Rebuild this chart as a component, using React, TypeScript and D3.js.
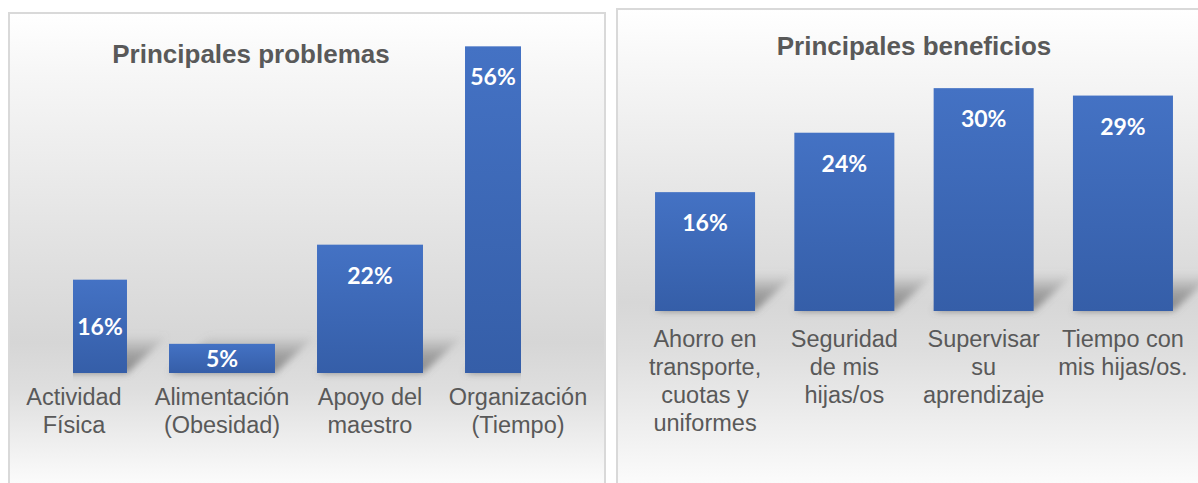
import React from "react";
import * as d3 from "d3";

// ---- Data ----
const problemCategories = ["Actividad\nFísica", "Alimentación\n(Obesidad)", "Apoyo del\nmaestro", "Organización\n(Tiempo)"];
const problemValues = [0.16, 0.05, 0.22, 0.56];
const problemTitle = "Principales problemas";

const benefitCategories = ["Ahorro en\ntransporte,\ncuotas y\nuniformes", "Seguridad\nde mis\nhijas/os", "Supervisar\nsu\naprendizaje", "Tiempo con\nmis hijas/os."];
const benefitValues = [0.16, 0.24, 0.30, 0.29];
const benefitTitle = "Principales beneficios";

const fmt = d3.format(".0%");

type PanelCfg = {
  id: string;
  title: string;
  cats: string[];
  vals: number[];
  box: [number, number, number]; // left, top, right
  bandRange: [number, number];
  padding: number;
  yDomainMax: number;
  yRange: [number, number];
  clip?: [number, number];
  titlePos: [number, number];
  labelY0: number;
  gradStops: [number, string][];
};

const panels: PanelCfg[] = [
  {
    id: "p1",
    title: problemTitle,
    cats: problemCategories,
    vals: problemValues,
    box: [9, 13, 605],
    bandRange: [0, 592],
    padding: 0.284,
    yDomainMax: 0.6,
    yRange: [373, 23],
    clip: [73, 521],
    titlePos: [251, 54],
    labelY0: 397,
    gradStops: [[0, "#ffffff"], [0.12, "#f7f7f7"], [0.7, "#d6d6d6"], [0.8, "#dedede"], [1, "#fbfbfb"]],
  },
  {
    id: "p2",
    title: benefitTitle,
    cats: benefitCategories,
    vals: benefitValues,
    box: [617, 9, 1205],
    bandRange: [635.4, 1192.6],
    padding: 0.282,
    yDomainMax: 0.35,
    yRange: [311, 51],
    titlePos: [914, 46],
    labelY0: 339,
    gradStops: [[0, "#ffffff"], [0.12, "#f7f7f7"], [0.62, "#d7d7d7"], [0.72, "#dedede"], [1, "#fbfbfb"]],
  },
];

function Panel({ cfg }: { cfg: PanelCfg }) {
  const x = d3.scaleBand<string>().domain(cfg.cats).range(cfg.bandRange).paddingInner(cfg.padding).paddingOuter(cfg.padding / 2);
  const y = d3.scaleLinear().domain([0, cfg.yDomainMax]).range(cfg.yRange);
  const base = y(0);
  const bw = x.bandwidth();
  const [bl, bt, br] = cfg.box;
  const sdx = 42;
  const sdy = 38;
  const clipL = cfg.clip ? cfg.clip[0] : -1e4;
  const clipR = cfg.clip ? cfg.clip[1] : 1e4;
  return (
    <g>
      <defs>
        <linearGradient id={`bg-${cfg.id}`} gradientUnits="userSpaceOnUse" x1={0} y1={bt} x2={0} y2={483}>
          {cfg.gradStops.map(([o, c], i) => (
            <stop key={i} offset={o} stopColor={c} />
          ))}
        </linearGradient>
        <clipPath id={`clip-${cfg.id}`}>
          <rect x={clipL} y={0} width={clipR - clipL} height={483} />
        </clipPath>
        <linearGradient id={`sh-${cfg.id}`} gradientUnits="objectBoundingBox" x1={0} y1={1} x2={0} y2={0}>
          <stop offset={0} stopColor="#666" stopOpacity={0.75} />
          <stop offset={0.5} stopColor="#777" stopOpacity={0.55} />
          <stop offset={1} stopColor="#888" stopOpacity={0} />
        </linearGradient>
      </defs>
      <rect x={bl} y={bt} width={br - bl} height={500} fill={`url(#bg-${cfg.id})`} stroke="#d9d9d9" strokeWidth={2} />
      <text x={cfg.titlePos[0]} y={cfg.titlePos[1]} textAnchor="middle" dominantBaseline="central"
        fontFamily="'Liberation Sans', Arial, sans-serif" fontWeight="bold" fontSize={26} fill="#595959">
        {cfg.title}
      </text>
      <g clipPath={`url(#clip-${cfg.id})`}>
        {cfg.cats.map((c) => {
          const x0 = x(c)!;
          const x1 = x0 + bw;
          return (
            <polygon key={"s" + c}
              points={`${x0},${base} ${x1},${base} ${x1 + sdx},${base - sdy} ${x0 + sdx},${base - sdy}`}
              fill={`url(#sh-${cfg.id})`} filter="url(#blur)" />
          );
        })}
        {cfg.cats.map((c, i) => (
          <rect key={"b" + c} x={x(c)} y={y(cfg.vals[i])} width={bw} height={base - y(cfg.vals[i])} fill="url(#barGrad)" />
        ))}
      </g>
      {cfg.cats.map((c, i) => {
        const x0 = Math.max(x(c)!, clipL);
        const x1 = Math.min(x(c)! + bw, clipR);
        const top = y(cfg.vals[i]);
        const h = base - top;
        const ly = h > 110 ? top + 30 : top + h / 2;
        return (
          <text key={"l" + c} x={(x0 + x1) / 2} y={ly} textAnchor="middle" dominantBaseline="central"
            fontFamily="Lato, 'Open Sans', sans-serif" fontWeight="bold" fontSize={23} fill="#ffffff">
            {fmt(cfg.vals[i])}
          </text>
        );
      })}
      {cfg.cats.map((c) => {
        const cx = x(c)! + bw / 2;
        return (
          <text key={"c" + c} textAnchor="middle" fontFamily="'Liberation Sans', Arial, sans-serif" fontSize={23.5} fill="#595959">
            {c.split("\n").map((line, j) => (
              <tspan key={j} x={cx} y={cfg.labelY0 + j * 28} dominantBaseline="central">{line}</tspan>
            ))}
          </text>
        );
      })}
    </g>
  );
}

export default function App() {
  return (
    <svg width={1198} height={483} style={{ position: "absolute", left: 0, top: 0, background: "#ffffff" }}>
      <defs>
        <linearGradient id="barGrad" x1={0} y1={0} x2={0} y2={1}>
          <stop offset={0} stopColor="#4472c4" />
          <stop offset={1} stopColor="#355ea8" />
        </linearGradient>
        <filter id="blur" x="-50%" y="-50%" width="200%" height="200%">
          <feGaussianBlur stdDeviation={3.5} />
        </filter>
      </defs>
      {panels.map((p) => (
        <Panel key={p.id} cfg={p} />
      ))}
    </svg>
  );
}
